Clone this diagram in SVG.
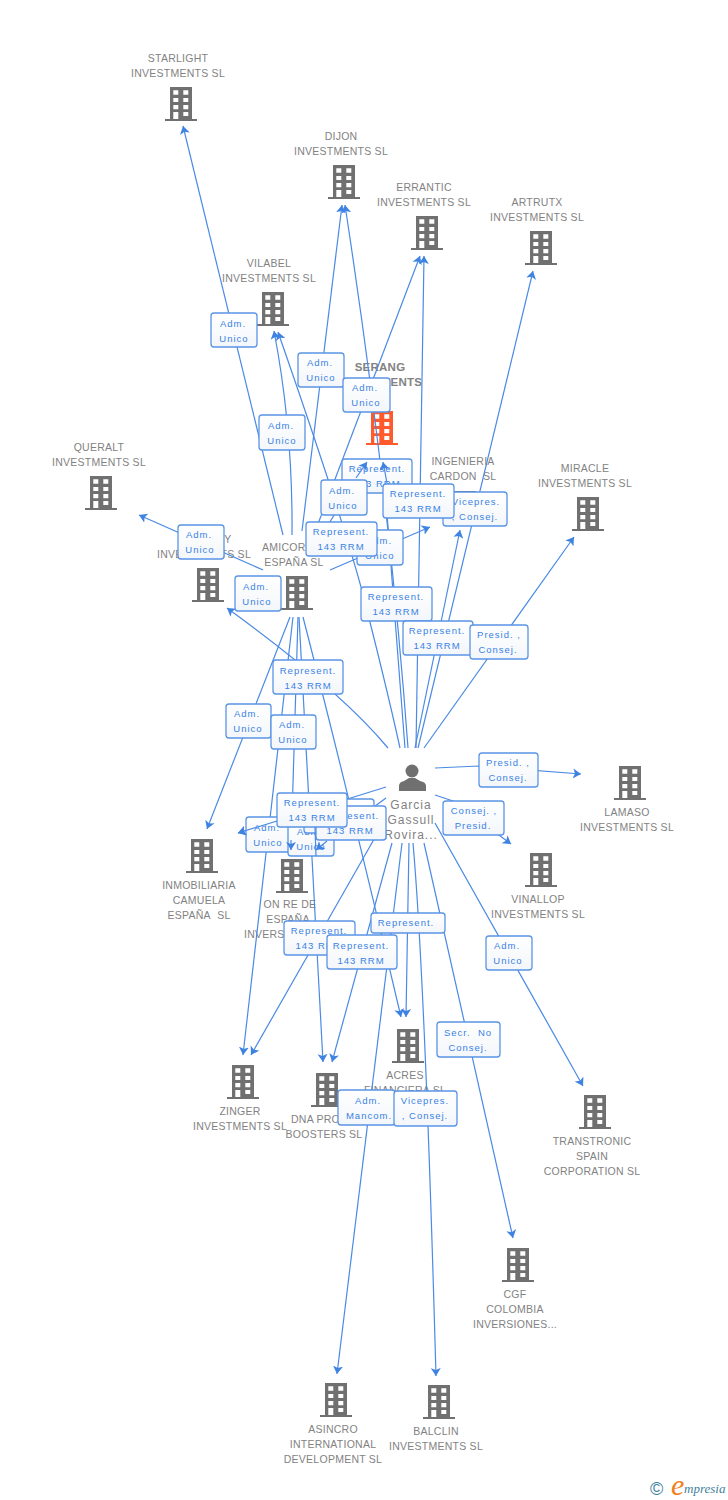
<svg xmlns="http://www.w3.org/2000/svg" width="728" height="1500" viewBox="0 0 728 1500">
<style>
text{font-family:"Liberation Sans",Arial,sans-serif}
.n{font-size:10.5px;fill:#828282;text-anchor:middle;letter-spacing:.25px}
.s{text-anchor:start}
.b{font-weight:bold;font-size:11.5px}
.p{font-size:12px;letter-spacing:1px}
.l{font-size:9.5px;fill:#3a82e4;text-anchor:middle;letter-spacing:1px}
.c path{fill:none;stroke:#4a8ae4;stroke-width:1.2;marker-end:url(#a)}
.c path.t{marker-end:none}
.e rect{fill:url(#g);stroke:#5a94e6;stroke-width:1.3;rx:3px}
.gr{fill:#707070}
.or{fill:#ff5a2b}
</style>
<defs>
<linearGradient id="g" x1="0" y1="0" x2="0" y2="1"><stop offset="0" stop-color="#fff"/><stop offset="1" stop-color="#f3f6fa"/></linearGradient>
<marker id="a" markerUnits="userSpaceOnUse" markerWidth="9" markerHeight="11" refX="8" refY="5.5" orient="auto"><path d="M0,0.5 L8,5.5 L0,10.5 L2,5.5 z" fill="#3f83e2"/></marker>
<g id="i">
<path fill-rule="evenodd" d="M-11,-17H11V15H16V17H-16V15H-11ZM-7.7,-13.7V-9.3H-2.7V-13.7ZM2.3,-13.7V-9.3H7.3V-13.7ZM-7.7,-6V-2H-2.7V-6ZM2.3,-6V-2H7.3V-6ZM-7.7,1V5.3H-2.7V1ZM2.3,1V5.3H7.3V1ZM-7.7,8V15H-2.7V8ZM2.3,8V12H7.3V8Z"/>
</g>
</defs>
<g id="n-starlight" class="gr"><use href="#i" x="181" y="104"/><text class="n" x="178" y="62">STARLIGHT</text><text class="n" x="178" y="77">INVESTMENTS SL</text></g>
<g id="n-dijon" class="gr"><use href="#i" x="344" y="182"/><text class="n" x="341" y="140">DIJON</text><text class="n" x="341" y="155">INVESTMENTS SL</text></g>
<g id="n-errantic" class="gr"><use href="#i" x="427" y="233"/><text class="n" x="424" y="191">ERRANTIC</text><text class="n" x="424" y="206">INVESTMENTS SL</text></g>
<g id="n-artrutx" class="gr"><use href="#i" x="541" y="248"/><text class="n" x="537" y="206">ARTRUTX</text><text class="n" x="537" y="221">INVESTMENTS SL</text></g>
<g id="n-vilabel" class="gr"><use href="#i" x="273" y="309"/><text class="n" x="269" y="267">VILABEL</text><text class="n" x="269" y="282">INVESTMENTS SL</text></g>
<g id="n-serang" class="or"><use href="#i" x="382" y="428"/><text class="n b" x="380" y="371">SERANG</text><text class="n b" x="380" y="386">INVESTMENTS</text></g>
<g id="n-queralt" class="gr"><use href="#i" x="101" y="493"/><text class="n" x="99" y="451">QUERALT</text><text class="n" x="99" y="466">INVESTMENTS SL</text></g>
<g id="n-ingenieria" class="gr"><use href="#i" x="465" y="508"/><text class="n" x="463" y="465">INGENIERIA</text><text class="n" x="463" y="480">CARDON&#160; SL</text></g>
<g id="n-miracle" class="gr"><use href="#i" x="588" y="514"/><text class="n" x="585" y="472">MIRACLE</text><text class="n" x="585" y="487">INVESTMENTS SL</text></g>
<g id="n-y" class="gr"><use href="#i" x="208" y="585"/><text class="n" x="228" y="543">Y</text><text class="n" x="204" y="558">INVESTMENTS SL</text></g>
<g id="n-amicor" class="gr"><use href="#i" x="297" y="593"/><text class="n s" x="262" y="551">AMICOR</text><text class="n" x="294" y="566">ESPAÑA SL</text></g>
<g id="n-lamaso" class="gr"><use href="#i" x="630" y="783"/><text class="n" x="627" y="816">LAMASO</text><text class="n" x="627" y="831">INVESTMENTS SL</text></g>
<g id="n-inmobiliaria" class="gr"><use href="#i" x="202" y="856"/><text class="n" x="199" y="889">INMOBILIARIA</text><text class="n" x="199" y="904">CAMUELA</text><text class="n" x="199" y="919">ESPAÑA&#160; SL</text></g>
<g id="n-onre" class="gr"><use href="#i" x="292" y="876"/><text class="n" x="290" y="908">ON RE DE</text><text class="n" x="288" y="923">ESPAÑA</text><text class="n s" x="244" y="938">INVERS</text></g>
<g id="n-vinallop" class="gr"><use href="#i" x="541" y="870"/><text class="n" x="538" y="903">VINALLOP</text><text class="n" x="538" y="918">INVESTMENTS SL</text></g>
<g id="n-zinger" class="gr"><use href="#i" x="243" y="1082"/><text class="n" x="240" y="1115">ZINGER</text><text class="n" x="240" y="1130">INVESTMENTS SL</text></g>
<g id="n-dna" class="gr"><use href="#i" x="327" y="1090"/><text class="n s" x="291" y="1123">DNA PRO</text><text class="n" x="324" y="1138">BOOSTERS SL</text></g>
<g id="n-acres" class="gr"><use href="#i" x="408" y="1046"/><text class="n" x="405" y="1079">ACRES</text><text class="n" x="405" y="1094">FINANCIERA SL</text></g>
<g id="n-transtronic" class="gr"><use href="#i" x="595" y="1112"/><text class="n" x="592" y="1145">TRANSTRONIC</text><text class="n" x="592" y="1160">SPAIN</text><text class="n" x="592" y="1175">CORPORATION SL</text></g>
<g id="n-cgf" class="gr"><use href="#i" x="518" y="1265"/><text class="n" x="515" y="1298">CGF</text><text class="n" x="515" y="1313">COLOMBIA</text><text class="n" x="515" y="1328">INVERSIONES...</text></g>
<g id="n-asincro" class="gr"><use href="#i" x="336" y="1400"/><text class="n" x="333" y="1433">ASINCRO</text><text class="n" x="333" y="1448">INTERNATIONAL</text><text class="n" x="333" y="1463">DEVELOPMENT SL</text></g>
<g id="n-balclin" class="gr"><use href="#i" x="439" y="1402"/><text class="n" x="436" y="1435">BALCLIN</text><text class="n" x="436" y="1450">INVESTMENTS SL</text></g>
<g id="n-person" class="gr"><circle cx="412" cy="771" r="6.5"/><path d="M399,791V786Q399,782 404,781L409,778H415L420,781Q426,782 426,786V791Z"/><text class="n p" x="411" y="809">Garcia</text><text class="n p" x="411" y="824">Gassull</text><text class="n p" x="411" y="839">Rovira...</text></g>
<g id="connectors" class="c">
<path d="M283,535L183,126"/>
<path d="M292,535Q293,430 274,331"/>
<path d="M302,531L342,205"/>
<path d="M400,748Q385,680 361,587Q340,510 278,332"/>
<path d="M313,537L420,256"/>
<path d="M323,533L367,462"/>
<path d="M408,748Q390,500 345,205"/>
<path d="M405,748L383,462"/>
<path d="M416,748L424,256"/>
<path d="M418,748L533,271"/>
<path d="M415,748L460,530"/>
<path d="M424,748L574,537"/>
<path d="M330,570L430,527"/>
<path d="M263,570L139,515"/>
<path d="M388,748Q340,690 227,608"/>
<path d="M290,617L207,829"/>
<path d="M293,617L243,1055"/>
<path d="M298,617L291,850"/>
<path d="M299,617L323,1062"/>
<path d="M303,617Q350,800 401,1017"/>
<path d="M386,787L238,833"/>
<path d="M386,798L316,850"/>
<path d="M385,820L251,1055"/>
<path d="M392,843L332,1062"/>
<path d="M402,843L337,1374"/>
<path d="M409,843L406,1017"/>
<path d="M413,843Q425,980 436,1376"/>
<path d="M424,843L513,1238"/>
<path d="M435,823L583,1086"/>
<path d="M435,795L453,801L511,844"/>
<path d="M435,768L479,766L581,774"/>
</g>
<g id="edge-labels" class="e">
<g><rect x="211" y="313" width="46" height="34"/><text class="l" x="233" y="327">Adm.</text><text class="l" x="234" y="342">Unico</text></g>
<g><rect x="298" y="353" width="46" height="34"/><text class="l" x="320" y="366">Adm.</text><text class="l" x="321" y="381">Unico</text></g>
<g><rect x="259" y="415" width="46" height="35"/><text class="l" x="281" y="429">Adm.</text><text class="l" x="282" y="444">Unico</text></g>
<g><rect x="342" y="459" width="70" height="34"/><text class="l" x="377" y="472">Represent.</text><text class="l" x="377" y="487">143 RRM</text></g>
<g><rect x="343" y="378" width="47" height="34"/><text class="l" x="365" y="391">Adm.</text><text class="l" x="366" y="406">Unico</text></g>
<g><rect x="357" y="530" width="46" height="35"/><text class="l" x="379" y="544">Adm.</text><text class="l" x="380" y="559">Unico</text></g>
<g><rect x="443" y="492" width="64" height="34"/><text class="l" x="476" y="505">Vicepres.</text><text class="l" x="475" y="520">, Consej.</text></g>
<g><rect x="383" y="484" width="71" height="34"/><text class="l" x="418" y="497">Represent.</text><text class="l" x="418" y="512">143 RRM</text></g>
<g><rect x="321" y="480" width="46" height="35"/><text class="l" x="342" y="494">Adm.</text><text class="l" x="343" y="509">Unico</text></g>
<g><rect x="306" y="522" width="71" height="34"/><text class="l" x="341" y="535">Represent.</text><text class="l" x="341" y="550">143 RRM</text></g>
<g><rect x="178" y="525" width="46" height="34"/><text class="l" x="199" y="538">Adm.</text><text class="l" x="200" y="553">Unico</text></g>
<g><rect x="235" y="576" width="46" height="35"/><text class="l" x="256" y="590">Adm.</text><text class="l" x="257" y="605">Unico</text></g>
<g><rect x="361" y="587" width="71" height="34"/><text class="l" x="396" y="600">Represent.</text><text class="l" x="396" y="615">143 RRM</text></g>
<g><rect x="403" y="621" width="70" height="34"/><text class="l" x="437" y="634">Represent.</text><text class="l" x="437" y="649">143 RRM</text></g>
<g><rect x="470" y="625" width="58" height="34"/><text class="l" x="499" y="638">Presid. ,</text><text class="l" x="498" y="653">Consej.</text></g>
<g><rect x="273" y="660" width="70" height="34"/><text class="l" x="308" y="674">Represent.</text><text class="l" x="308" y="689">143 RRM</text></g>
<g><rect x="226" y="704" width="45" height="34"/><text class="l" x="247" y="717">Adm.</text><text class="l" x="248" y="732">Unico</text></g>
<g><rect x="271" y="715" width="45" height="34"/><text class="l" x="292" y="728">Adm.</text><text class="l" x="293" y="743">Unico</text></g>
<g><rect x="479" y="753" width="59" height="34"/><text class="l" x="508" y="766">Presid. ,</text><text class="l" x="508" y="781">Consej.</text></g>
<g><rect x="443" y="801" width="61" height="34"/><text class="l" x="474" y="814">Consej. ,</text><text class="l" x="473" y="829">Presid.</text></g>
<g><rect x="246" y="817" width="44" height="35"/><text class="l" x="267" y="831">Adm.</text><text class="l" x="268" y="846">Unico</text></g>
<g><rect x="288" y="822" width="46" height="34"/><text class="l" x="310" y="835">Adm.</text><text class="l" x="311" y="850">Unico</text></g>
<g><rect x="304" y="799" width="70" height="34"/></g>
<g><rect x="316" y="806" width="70" height="34"/><text class="l" x="351" y="819">Represent.</text><text class="l" x="350" y="834">143 RRM</text></g>
<g><rect x="277" y="793" width="70" height="34"/><text class="l" x="312" y="806">Represent.</text><text class="l" x="312" y="821">143 RRM</text></g>
<g><rect x="371" y="913" width="74" height="20"/><text class="l" x="406" y="926">Represent.</text></g>
<g><rect x="284" y="921" width="71" height="34"/><text class="l" x="319" y="934">Represent.</text><text class="l" x="319" y="949">143 RRM</text></g>
<g><rect x="327" y="935" width="70" height="34"/><text class="l" x="361" y="949">Represent.</text><text class="l" x="361" y="964">143 RRM</text></g>
<g><rect x="486" y="936" width="46" height="34"/><text class="l" x="507" y="949">Adm.</text><text class="l" x="508" y="964">Unico</text></g>
<g><rect x="437" y="1022" width="63" height="35"/><text class="l" x="468" y="1036">Secr.&#160; No</text><text class="l" x="468" y="1051">Consej.</text></g>
<g><rect x="338" y="1090" width="57" height="35"/><text class="l" x="368" y="1104">Adm.</text><text class="l" x="369" y="1119">Mancom.</text></g>
<g><rect x="394" y="1091" width="63" height="35"/><text class="l" x="425" y="1104">Vicepres.</text><text class="l" x="425" y="1119">, Consej.</text></g>
</g>
<g id="connector-tips" class="c">
<path d="M277,821L238,833"/>
<path d="M291,840L291,850"/>
<path d="M327,841L316,850"/>
<path class="t" d="M315,827L316,856"/>
<path d="M356,478L367,462"/>
<path d="M387,483L383,462"/>
</g>
<g id="logo">
<text x="650" y="1495" font-size="18" fill="#3f7f9c">©</text>
<text x="671" y="1495" font-size="30" fill="#f08020" font-style="italic" style="font-family:'Liberation Serif',serif">e</text>
<text x="684" y="1493" font-size="13" fill="#3f7f9c" font-style="italic" style="font-family:'Liberation Serif',serif">mpresia</text>
</g>
</svg>
